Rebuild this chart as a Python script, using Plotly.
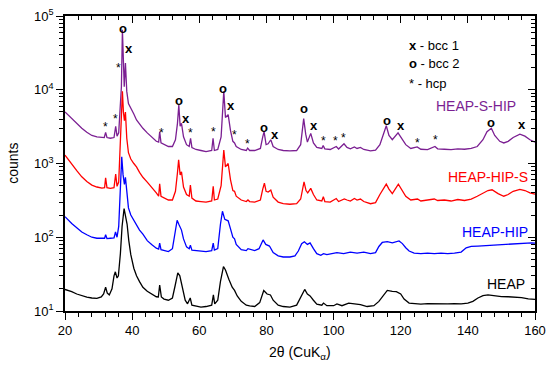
import plotly.graph_objects as go

# ---------------- data ----------------
two_theta_purple = [20, 21, 22, 23.5, 25, 26.5, 28, 29.5, 31, 31.7, 32.1, 32.5, 33.5, 34.6, 35.1, 35.5, 36.0, 36.4, 36.8, 37.1, 37.4, 37.65, 38.0, 38.4, 38.9, 39.6, 40.5, 41.3, 42.2, 43.2, 44.5, 45.8, 47.2, 47.9, 48.2, 48.6, 49.5, 50.8, 52, 52.9, 53.5, 53.9, 54.3, 54.7, 55.3, 56.2, 57.0, 57.4, 57.8, 59, 60.5, 62, 63.7, 64.1, 64.5, 65.5, 66.5, 67.0, 67.3, 67.8, 68.6, 69.3, 70.0, 70.5, 71.0, 72.5, 74.0, 74.4, 75, 76.5, 78.2, 78.9, 79.3, 79.9, 80.5, 81.3, 82.0, 83.5, 85, 87, 89, 90.2, 90.7, 91.1, 91.7, 92.2, 93.2, 94.0, 95, 96.5, 96.9, 97.4, 99, 100.8, 101.5, 103.1, 104, 105, 106.2, 107, 108, 109, 111, 112.5, 113.8, 115, 115.7, 116.5, 117.5, 119.2, 120.5, 121.5, 123, 124.9, 126, 128, 130.2, 131, 133, 135, 137, 139, 141, 142.8, 144.5, 145.7, 147, 148, 149.5, 150.7, 152, 153.5, 155.5, 157, 158.5, 160]
counts_purple = [5000, 4500, 4100, 3500, 3000, 2650, 2400, 2300, 2250, 2250, 2650, 2250, 2200, 2250, 3200, 2350, 2600, 6500, 11000, 65000, 18000, 11000, 23000, 9500, 6500, 5500, 4700, 3900, 3400, 3000, 2600, 2300, 2000, 1950, 2700, 1900, 1800, 1700, 1700, 2100, 3500, 6200, 3200, 3500, 2300, 1800, 1700, 2200, 1650, 1550, 1500, 1450, 1500, 2200, 1500, 1550, 2300, 6000, 9500, 4200, 4600, 2800, 2000, 1900, 1700, 1550, 1500, 1620, 1500, 1500, 1600, 2300, 2700, 1800, 1850, 2100, 1700, 1550, 1500, 1480, 1500, 1800, 2800, 4050, 2500, 1950, 2560, 1900, 1650, 1600, 1750, 1580, 1550, 1700, 1570, 1850, 1650, 1580, 1680, 1600, 1650, 1550, 1480, 1520, 1800, 2700, 3250, 2400, 2100, 2600, 2100, 1800, 1600, 1680, 1560, 1540, 1700, 1580, 1560, 1540, 1580, 1560, 1600, 1700, 2100, 2700, 3000, 2400, 2000, 1900, 2000, 2250, 2500, 2350, 2100, 1950]

two_theta_red = [20, 21, 22, 23.5, 25, 26.5, 28, 29.5, 31, 31.8, 32.1, 32.5, 33.5, 34.6, 35.1, 35.5, 36.0, 36.4, 36.8, 37.1, 37.4, 37.7, 38.0, 38.4, 38.9, 39.6, 40.5, 41.3, 42.2, 43.2, 44.5, 45.8, 47.2, 47.9, 48.2, 48.6, 49.5, 50.8, 52, 52.9, 53.5, 53.85, 54.3, 54.7, 55.3, 56.2, 57.0, 57.35, 57.8, 59, 60.5, 62, 63.7, 64.15, 64.5, 65.5, 66.5, 67.0, 67.3, 67.8, 68.6, 69.3, 70.0, 70.5, 71.0, 72.5, 74.0, 74.5, 75, 76.5, 78.2, 78.9, 79.4, 79.9, 80.5, 81.3, 82.0, 83.5, 85, 87, 89, 90.2, 90.7, 91.2, 91.8, 92.3, 93.2, 94.0, 95, 96.5, 96.95, 97.4, 99, 100.8, 101.5, 103.2, 104, 105, 106.2, 107, 108, 109, 111, 112.5, 113.8, 115, 115.7, 116.5, 117.5, 119.3, 120.5, 121.5, 123, 125, 126, 128, 130, 131, 133, 135, 137, 139, 141, 142.8, 144.5, 146, 147.2, 149, 150.7, 152, 153.5, 155.5, 157, 158.5, 160]
counts_red = [1300, 1120, 1000, 800, 660, 570, 510, 480, 465, 470, 640, 470, 460, 470, 720, 490, 560, 1500, 4000, 9500, 5000, 3800, 5000, 2200, 1400, 1150, 1000, 900, 760, 650, 560, 480, 400, 360, 530, 360, 340, 320, 320, 420, 750, 1120, 700, 770, 480, 380, 360, 510, 340, 310, 305, 300, 310, 490, 320, 330, 500, 1100, 1520, 900, 1000, 600, 430, 420, 360, 320, 305, 320, 305, 300, 320, 450, 540, 420, 410, 435, 350, 300, 285, 280, 285, 330, 440, 565, 430, 400, 460, 380, 320, 310, 355, 305, 300, 335, 305, 330, 320, 310, 335, 320, 330, 305, 285, 295, 380, 480, 525, 450, 390, 525, 430, 360, 320, 330, 310, 320, 330, 315, 320, 310, 325, 315, 330, 360, 400, 430, 440, 390, 360, 380, 420, 445, 430, 400, 385]

two_theta_blue = [20, 21, 22, 23.5, 25, 26.5, 28, 29.5, 31, 31.8, 32.1, 32.5, 33.5, 34.6, 35.05, 35.5, 36.0, 36.5, 36.9, 37.3, 37.7, 38.0, 38.4, 38.9, 39.6, 40.5, 41.3, 42.2, 43.2, 44.5, 45.8, 47.2, 47.9, 48.2, 48.6, 49.5, 50.8, 52, 52.8, 53.4, 53.9, 54.7, 55.3, 56.2, 57.0, 57.35, 57.8, 59, 60.5, 62, 63.7, 64.15, 64.5, 65.5, 66.3, 66.9, 67.6, 68.6, 69.3, 70.0, 70.5, 71.0, 72.5, 74.0, 74.5, 76.5, 77.8, 78.5, 79.0, 79.8, 80.9, 82.0, 83.5, 85, 87, 88.5, 89.5, 90.5, 91.3, 92.2, 93.0, 94.0, 95, 96.2, 97, 98, 100, 101, 103, 105, 107, 109, 111, 112.5, 113.5, 114.5, 116, 117.5, 119.5, 120.5, 121.5, 122.5, 124, 126, 128, 130, 132, 134, 136, 138, 139.5, 141, 143, 145, 147, 149, 151, 153, 155, 157, 159, 160]
counts_blue = [190, 170, 154, 135, 118, 108, 100, 97, 96, 97, 108, 96, 97, 98, 118, 100, 140, 500, 1230, 700, 520, 650, 380, 250, 200, 170, 150, 125, 110, 90, 80, 71, 69, 83, 68, 66, 64, 70, 110, 170, 150, 125, 95, 74, 70, 78, 67, 66, 65, 64, 66, 83, 67, 70, 150, 225, 175, 167, 130, 100, 95, 80, 68, 66, 70, 66, 70, 85, 92, 80, 76, 62, 56, 54, 54, 56, 65, 82, 87, 80, 84, 70, 60, 57, 60, 58, 61, 62, 60, 63, 61, 63, 60, 62, 75, 85, 87, 84, 89, 82, 72, 65, 61, 60, 61, 60, 61, 60, 61, 63, 72, 75, 76, 77, 77, 79, 80, 81, 83, 83, 84, 83]

two_theta_black = [20, 21, 22, 23.5, 25, 26.5, 28, 29.5, 30.8, 31.5, 32.1, 32.6, 33.2, 34.0, 34.6, 35.0, 35.5, 35.9, 36.5, 37.0, 37.6, 38.1, 38.5, 39.0, 39.6, 40.5, 41.3, 42.2, 43.2, 44.5, 45.8, 47.2, 47.8, 48.2, 48.7, 49.5, 50.8, 52, 52.8, 53.6, 54.2, 55.0, 55.8, 56.5, 57.3, 57.8, 59, 60.5, 62, 63.7, 64.2, 64.6, 65.5, 66.3, 67.2, 67.8, 68.8, 69.8, 70.5, 71.3, 72.5, 74, 75, 76.5, 78, 79.2, 80.2, 81.2, 82, 83.5, 85, 87, 89, 90.5, 91.4, 92.2, 93.0, 94.0, 95, 96.5, 97, 98, 100, 101, 102.5, 104.5, 106, 108, 110, 112, 113.5, 114.5, 116, 117.5, 118.7, 120, 121, 122.5, 124, 126, 128, 130, 132, 134, 136, 138, 140, 141.5, 143, 144.5, 146, 148, 150, 152, 154, 156, 158, 160]
counts_black = [19.6, 19, 18.3, 17, 16, 15.4, 15, 14.8, 15.5, 17, 21, 17.5, 16.5, 20, 30, 34, 28, 30, 60, 140, 245, 190, 150, 90, 58, 38, 30, 25, 21, 18.5, 17, 15.6, 15.5, 22.5, 15.5, 14.5, 14, 15, 22, 33, 30, 21, 14, 12.5, 15, 12, 11.6, 11.3, 11.5, 12, 16.5, 12.5, 14, 25, 40, 36, 27, 21, 19, 16, 13.5, 12, 11.7, 11.5, 13, 19, 17, 16.5, 14, 12, 11.5, 11.3, 12, 16, 19.6, 17, 16, 14, 12.4, 12, 12.8, 11.8, 11.8, 12.5, 11.8, 12.8, 12.5, 12.2, 11.5, 11.8, 13.5, 15.5, 19, 18.5, 18.3, 17, 14.5, 12.8, 12.5, 12.4, 12.6, 12.5, 12.4, 12.5, 12.6, 12.5, 12.8, 13.5, 15, 16.2, 16.5, 16, 15.7, 15.6, 15.4, 15.2, 14.6, 14.4]

series_names = ["HEAP-S-HIP", "HEAP-HIP-S", "HEAP-HIP", "HEAP"]
series_colors = ["#7B1F92", "#FF0000", "#0000FF", "#000000"]
label_x = [155.0, 158.6, 158.6, 157.6]
label_log_y = [3.78, 2.82, 2.07, 1.37]

# phase markers above the HEAP-S-HIP peaks
phase_symbols = ["o", "x", "*", "*", "*", "*", "o", "x", "*", "*", "o", "x", "*", "*", "o", "x",
                 "o", "x", "*", "*", "*", "o", "x", "*", "*", "o", "x"]
phase_x = [37.2, 39.0, 36.0, 35.1, 32.0, 48.7, 53.9, 55.9, 57.4, 64.1, 67.1, 69.4, 70.6, 74.5, 79.2, 82.5,
           91.2, 94.1, 96.9, 100.6, 103.1, 115.9, 120.0, 124.9, 130.3, 147.0, 156.0]
phase_log_y = [4.83, 4.56, 4.29, 3.60, 3.49, 3.41, 3.86, 3.61, 3.41, 3.43, 4.02, 3.79, 3.38, 3.26, 3.49, 3.39,
               3.75, 3.51, 3.31, 3.31, 3.35, 3.58, 3.51, 3.28, 3.32, 3.55, 3.53]

key_lines = ["<b>x</b> - bcc 1", "<b>o</b> - bcc 2", "* - hcp"]
key_log_y = [4.60, 4.35, 4.09]

y_tick_vals = [10, 100, 1000, 10000, 100000]
y_tick_text = ["10<sup>1</sup>", "10<sup>2</sup>", "10<sup>3</sup>", "10<sup>4</sup>", "10<sup>5</sup>"]

FONT = "Liberation Sans, Arial, sans-serif"

fig = go.Figure()
xs = [two_theta_purple, two_theta_red, two_theta_blue, two_theta_black]
ys = [counts_purple, counts_red, counts_blue, counts_black]
for name, c, x, y in zip(series_names, series_colors, xs, ys):
    fig.add_trace(go.Scatter(x=x, y=y, mode="lines", name=name,
                             line=dict(color=c, width=1.3), showlegend=False))

# dummy trace for mirrored top/right axes
fig.add_trace(go.Scatter(x=[None], y=[None], xaxis="x2", yaxis="y2", showlegend=False, hoverinfo="skip"))

annotations = []
for name, c, lx, ly in zip(series_names, series_colors, label_x, label_log_y):
    annotations.append(dict(x=lx, y=ly, xref="x", yref="y", text=name, showarrow=False,
                            xanchor="right", yanchor="middle",
                            font=dict(family=FONT, size=14, color=c)))
for s, px, py in zip(phase_symbols, phase_x, phase_log_y):
    if s == "*":
        annotations.append(dict(x=px, y=py, text="*", showarrow=False, xanchor="center", yanchor="middle",
                                font=dict(family=FONT, size=12, color="black")))
    else:
        annotations.append(dict(x=px, y=py, text="<b>" + s + "</b>", showarrow=False, xanchor="center",
                                yanchor="middle", font=dict(family=FONT, size=13, color="black")))
for t, ly in zip(key_lines, key_log_y):
    annotations.append(dict(x=122.0, y=ly, text=t, showarrow=False, xanchor="left", yanchor="middle",
                            font=dict(family=FONT, size=13, color="black")))

# axis titles
annotations.append(dict(x=-0.112, y=0.5, xref="paper", yref="paper", text="counts", textangle=-90,
                        showarrow=False, xanchor="center", yanchor="middle",
                        font=dict(family=FONT, size=14, color="black")))
annotations.append(dict(x=0.5, y=-0.105, xref="paper", yref="paper", text="2θ (CuK<sub>α</sub>)",
                        showarrow=False, xanchor="center", yanchor="top",
                        font=dict(family=FONT, size=14, color="black")))

minor_y = [k * 10 ** e for e in range(1, 5) for k in range(2, 10)]

fig.update_layout(
    width=550, height=371,
    margin=dict(l=65, r=15, t=16, b=60),
    paper_bgcolor="white", plot_bgcolor="white",
    font=dict(family=FONT, size=13, color="black"),
    annotations=annotations,
    xaxis=dict(range=[20, 160], dtick=20, tick0=20, showgrid=False, zeroline=False, automargin=False,
               showline=True, linecolor="black", linewidth=1.5,
               ticks="outside", ticklen=7, tickwidth=1.3, tickcolor="black",
               minor=dict(dtick=4, tick0=20, ticks="outside", ticklen=4, tickwidth=1, tickcolor="black", showgrid=False),
               tickfont=dict(size=13, family=FONT)),
    yaxis=dict(type="log", range=[1, 5], tickmode="array", tickvals=y_tick_vals, ticktext=y_tick_text,
               showgrid=False, zeroline=False, showline=True, linecolor="black", linewidth=1.5, automargin=False,
               ticks="outside", ticklen=7, tickwidth=1.3, tickcolor="black",
               minor=dict(tickmode="array", tickvals=minor_y, ticks="outside", ticklen=4, tickwidth=1,
                          tickcolor="black", showgrid=False),
               tickfont=dict(size=13, family=FONT)),
    xaxis2=dict(range=[20, 160], overlaying="x", side="top", anchor="y2", dtick=20, tick0=20, automargin=False,
                showgrid=False, zeroline=False, showline=True, linecolor="black", linewidth=1.5,
                ticks="inside", ticklen=7, tickwidth=1.3, tickcolor="black", showticklabels=False,
                minor=dict(dtick=4, tick0=20, ticks="inside", ticklen=4, tickwidth=1, tickcolor="black", showgrid=False)),
    yaxis2=dict(type="log", range=[1, 5], overlaying="y", side="right", anchor="x2", automargin=False,
                tickmode="array", tickvals=y_tick_vals, showticklabels=False,
                showgrid=False, zeroline=False, showline=True, linecolor="black", linewidth=1.5,
                ticks="inside", ticklen=7, tickwidth=1.3, tickcolor="black",
                minor=dict(tickmode="array", tickvals=minor_y, ticks="inside", ticklen=4, tickwidth=1,
                           tickcolor="black", showgrid=False)),
)

fig.write_html("out.html", config={"displayModeBar": False},
               post_script="document.body.style.margin='0';")
